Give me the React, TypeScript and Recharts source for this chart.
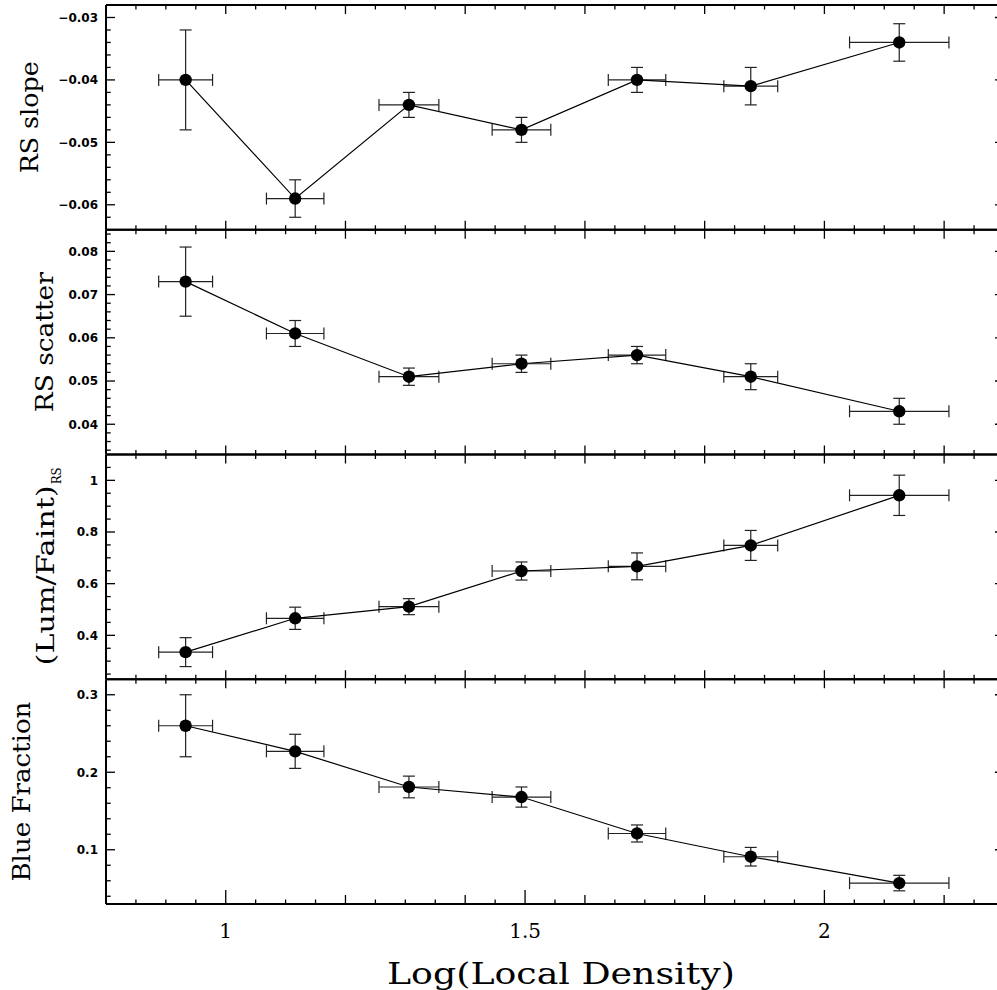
import React from 'react';
import { ScatterChart, Scatter, XAxis, YAxis, ErrorBar } from 'recharts';

// Bin centres and half-widths in log local density
const density = [0.933, 1.116, 1.306, 1.494, 1.687, 1.877, 2.125];
const densityErr = [0.045, 0.048, 0.05, 0.049, 0.048, 0.045, 0.083];

// Red-sequence slope per density bin
const rsSlope = [-0.04, -0.059, -0.044, -0.048, -0.04, -0.041, -0.034];
const rsSlopeErr = [0.008, 0.003, 0.002, 0.002, 0.002, 0.003, 0.003];

// Red-sequence scatter per density bin
const rsScatter = [0.073, 0.061, 0.051, 0.054, 0.056, 0.051, 0.043];
const rsScatterErr = [0.008, 0.003, 0.002, 0.002, 0.002, 0.003, 0.003];

// Luminous-to-faint ratio on the red sequence
const lumFaint = [0.335, 0.466, 0.511, 0.649, 0.667, 0.748, 0.942];
const lumFaintErr = [0.056, 0.043, 0.031, 0.035, 0.052, 0.058, 0.078];

// Blue fraction per density bin
const blueFraction = [0.26, 0.227, 0.181, 0.168, 0.121, 0.091, 0.057];
const blueFractionErr = [0.04, 0.022, 0.014, 0.013, 0.011, 0.012, 0.01];

// Tick labels
const xTickLabels = [1, 1.5, 2];
const slopeTickLabels = [-0.06, -0.05, -0.04, -0.03];
const scatterTickLabels = [0.04, 0.05, 0.06, 0.07, 0.08];
const lumTickLabels = [0.4, 0.6, 0.8, 1];
const blueTickLabels = [0.1, 0.2, 0.3];

const steps = (from: number, to: number, step: number) => {
  const out: number[] = [];
  const n = Math.round((to - from) / step);
  for (let i = 0; i <= n; i++) out.push(+(from + i * step).toFixed(4));
  return out;
};

const CHART_W = 1005;
const CHART_H = 990;
const PLOT_LEFT = 106;
const PLOT_RIGHT = 1004;
const PLOT_TOP = 5;
const PANEL_H = 224.75;
const AXIS_SIZE = 1;
const X_DOMAIN: [number, number] = [0.8, 2.3];
const xTicks = steps(0.85, 2.25, 0.05);

const SERIF = '"DejaVu Serif", serif';
const SANS = '"DejaVu Sans", sans-serif';

const near = (a: number, b: number) => Math.abs(a - b) < 1e-7;

type PanelSpec = {
  title: string;
  sub?: string;
  values: number[];
  errors: number[];
  domain: [number, number];
  ticks: number[];
  labels: number[];
  titleX: number;
  titleLen: number;
};

const panels: PanelSpec[] = [
  {
    title: 'RS slope',
    values: rsSlope,
    errors: rsSlopeErr,
    domain: [-0.064, -0.028],
    ticks: steps(-0.062, -0.03, 0.002),
    labels: slopeTickLabels,
    titleX: 37.5,
    titleLen: 112,
  },
  {
    title: 'RS scatter',
    values: rsScatter,
    errors: rsScatterErr,
    domain: [0.033, 0.085],
    ticks: steps(0.034, 0.084, 0.002),
    labels: scatterTickLabels,
    titleX: 53,
    titleLen: 140,
  },
  {
    title: '(Lum/Faint)',
    sub: 'RS',
    values: lumFaint,
    errors: lumFaintErr,
    domain: [0.23, 1.1],
    ticks: steps(0.25, 1.05, 0.05),
    labels: lumTickLabels,
    titleX: 54,
    titleLen: 180,
  },
  {
    title: 'Blue Fraction',
    values: blueFraction,
    errors: blueFractionErr,
    domain: [0.03, 0.32],
    ticks: steps(0.04, 0.3, 0.02),
    labels: blueTickLabels,
    titleX: 30,
    titleLen: 180,
  },
];

const fmtY = (v: number) => (v < 0 ? '\u2212' + String(Math.abs(v)) : String(v));

function XTick(props: any) {
  const { x, y, payload, dir, withLabels } = props;
  const v = payload.value as number;
  const labelled = withLabels && xTickLabels.some((l) => near(l, v));
  const major = near(v / 0.2, Math.round(v / 0.2));
  const len = labelled ? 14 : major ? 9 : 4.5;
  return (
    <g>
      <line x1={x} y1={y} x2={x} y2={y + dir * len} stroke="#000" strokeWidth={1.3} />
      {labelled && (
        <text x={x} y={y + 34} textAnchor="middle" fontFamily={SERIF} fontSize={20} fill="#000">
          {String(v)}
        </text>
      )}
    </g>
  );
}

function YTick(props: any) {
  const { x, y, payload, side, labels } = props;
  const v = payload.value as number;
  const major = (labels as number[]).some((l) => near(l, v));
  const len = major ? 9 : 4.7;
  const dir = side === 'left' ? 1 : -1;
  return (
    <g>
      <line x1={x} y1={y} x2={x + dir * len} y2={y} stroke="#000" strokeWidth={1.3} />
      {side === 'left' && major && (
        <text
          x={x - 8}
          y={y}
          dy="0.36em"
          textAnchor="end"
          fontFamily={SANS}
          fontWeight="bold"
          fontSize={12}
          fill="#000"
        >
          {fmtY(v)}
        </text>
      )}
    </g>
  );
}

function YTitle({ spec, index }: { spec: PanelSpec; index: number }) {
  const cy = PLOT_TOP + PANEL_H * index + PANEL_H / 2;
  if (spec.sub) {
    const subLen = 17;
    const start = cy + (spec.titleLen + subLen) / 2;
    return (
      <g transform={`translate(${spec.titleX},${start}) rotate(-90)`}>
        <text
          x={0}
          y={0}
          fontFamily={SERIF}
          fontSize={25}
          fill="#000"
          textLength={spec.titleLen}
          lengthAdjust="spacingAndGlyphs"
        >
          {spec.title}
        </text>
        <text
          x={spec.titleLen + 1}
          y={7}
          fontFamily={SERIF}
          fontSize={13}
          fill="#000"
          textLength={subLen}
          lengthAdjust="spacingAndGlyphs"
        >
          {spec.sub}
        </text>
      </g>
    );
  }
  return (
    <g transform={`translate(${spec.titleX},${cy}) rotate(-90)`}>
      <text
        x={0}
        y={0}
        textAnchor="middle"
        fontFamily={SERIF}
        fontSize={25}
        fill="#000"
        textLength={spec.titleLen}
        lengthAdjust="spacingAndGlyphs"
      >
        {spec.title}
      </text>
    </g>
  );
}

function XTitle() {
  return (
    <text
      x={561}
      y={984}
      textAnchor="middle"
      fontFamily={SERIF}
      fontSize={30}
      fill="#000"
      textLength={348}
      lengthAdjust="spacingAndGlyphs"
    >
      Log(Local Density)
    </text>
  );
}

const Dot = (props: any) => <circle cx={props.cx} cy={props.cy} r={6.2} fill="#000" />;

const frameLine = { stroke: '#000', strokeWidth: 2 };

function Panel({ spec, index }: { spec: PanelSpec; index: number }) {
  const top = PLOT_TOP + PANEL_H * index;
  const bottom = top + PANEL_H;
  const isLast = index === panels.length - 1;
  const rows = density.map((x, i) => ({
    x,
    y: spec.values[i],
    ex: densityErr[i],
    ey: spec.errors[i],
  }));
  return (
    <div style={{ position: 'absolute', left: 0, top: 0 }}>
      <ScatterChart
        width={CHART_W}
        height={CHART_H}
        margin={{
          top: top - AXIS_SIZE,
          right: CHART_W - PLOT_RIGHT - AXIS_SIZE,
          bottom: CHART_H - bottom - AXIS_SIZE,
          left: PLOT_LEFT - AXIS_SIZE,
        }}
      >
        <XAxis
          xAxisId="b"
          dataKey="x"
          type="number"
          orientation="bottom"
          domain={X_DOMAIN}
          allowDataOverflow
          ticks={xTicks}
          interval={0}
          height={AXIS_SIZE}
          tickSize={0}
          tickMargin={0}
          tickLine={false}
          axisLine={frameLine}
          tick={(p: any) => <XTick {...p} dir={-1} withLabels={isLast} />}
          label={isLast ? <XTitle /> : undefined}
        />
        <XAxis
          xAxisId="t"
          dataKey="x"
          type="number"
          orientation="top"
          domain={X_DOMAIN}
          allowDataOverflow
          ticks={xTicks}
          interval={0}
          height={AXIS_SIZE}
          tickSize={0}
          tickMargin={0}
          tickLine={false}
          axisLine={frameLine}
          tick={(p: any) => <XTick {...p} dir={1} withLabels={false} />}
        />
        <YAxis
          yAxisId="l"
          dataKey="y"
          type="number"
          orientation="left"
          domain={spec.domain}
          allowDataOverflow
          ticks={spec.ticks}
          interval={0}
          width={AXIS_SIZE}
          tickSize={0}
          tickMargin={0}
          tickLine={false}
          axisLine={frameLine}
          tick={(p: any) => <YTick {...p} side="left" labels={spec.labels} />}
          label={<YTitle spec={spec} index={index} />}
        />
        <YAxis
          yAxisId="r"
          dataKey="y"
          type="number"
          orientation="right"
          domain={spec.domain}
          allowDataOverflow
          ticks={spec.ticks}
          interval={0}
          width={AXIS_SIZE}
          tickSize={0}
          tickMargin={0}
          tickLine={false}
          axisLine={frameLine}
          tick={(p: any) => <YTick {...p} side="right" labels={spec.labels} />}
        />
        <Scatter
          data={rows}
          dataKey="y"
          xAxisId="b"
          yAxisId="l"
          fill="#000"
          line={{ stroke: '#000', strokeWidth: 1.2 }}
          lineJointType="linear"
          shape={Dot}
          isAnimationActive={false}
        >
          <ErrorBar dataKey="ex" direction="x" width={6} stroke="#222" strokeWidth={1.2} isAnimationActive={false} />
          <ErrorBar dataKey="ey" direction="y" width={6} stroke="#222" strokeWidth={1.2} isAnimationActive={false} />
        </Scatter>
      </ScatterChart>
    </div>
  );
}

export default function App() {
  return (
    <div
      style={{
        position: 'absolute',
        left: 0,
        top: 0,
        width: 997,
        height: 990,
        overflow: 'hidden',
        background: '#fff',
      }}
    >
      {panels.map((spec, i) => (
        <Panel key={spec.title} spec={spec} index={i} />
      ))}
    </div>
  );
}
